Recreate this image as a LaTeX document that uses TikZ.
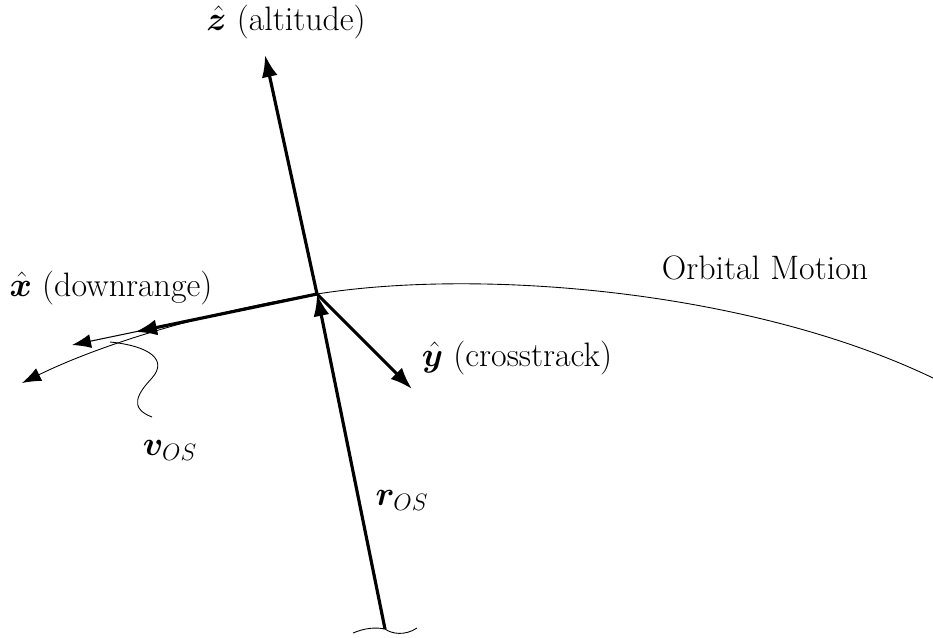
\RequirePackage{fix-cm}
\documentclass[tikz,border=0pt]{standalone}
\usepackage{amsmath,bm}
\usepackage{fontspec}
\usetikzlibrary{arrows.meta}
\tikzset{
  axis/.style={line width=1.8pt,-{Latex[length=4.4mm,width=3.2mm]}},
  thinvec/.style={line width=0.6pt,-{Latex[length=3.8mm,width=2.8mm]}},
  thinline/.style={line width=0.5pt},
  lbl/.style={font=\fontsize{19.3}{23}\selectfont}
}
\begin{document}
\begin{tikzpicture}[x=0.02cm,y=-0.02cm]
\useasboundingbox (0,0) rectangle (933,637);
% frame origin and tips
\coordinate (O) at (317,294);
\coordinate (zTip) at (265,55);
\coordinate (xTip) at (135,332);
\coordinate (vTip) at (72,345);
\coordinate (yTip) at (412,389);
\coordinate (Earth) at (385,629);
\coordinate (vTail) at (110,342);
\coordinate (vEnd) at (152,417);
\coordinate (orbitEnd) at (933,378);
\coordinate (orbitTip) at (22,383);
% orbit
\draw[thinvec,line width=0.5pt] (orbitEnd) .. controls (750,290) and (480,268) .. (O)
  .. controls (219,310) and (110,340) .. (orbitTip);
% vectors
\draw[axis] (O) -- (zTip);
\draw[axis] (O) -- (xTip);
\draw[axis] (O) -- (yTip);
\draw[axis] (Earth) -- (O);
\draw[thinvec] (O) -- (vTip);
% earth surface
\draw[thinline] (353,633) .. controls (365,628) and (375,627) .. (Earth) .. controls (392,634) and (405,636) .. (417,628);
% pointer to v
\draw[thinline] (vTail) .. controls (150,346) and (168,360) .. (152,378) .. controls (138,393) and (128,408) .. (vEnd);
% labels
\node[lbl] (zLabel) at (286,22) {$\bm{\hat{z}}$ (altitude)};
\node[lbl] (xLabel) at (111,288) {$\bm{\hat{x}}$ (downrange)};
\node[lbl] (yLabel) at (517,358) {$\bm{\hat{y}}$ (crosstrack)};
\node[lbl] (orbitLabel) at (765,268) {Orbital Motion};
\node[lbl] (vLabel) at (170,450) {$\bm{v}_{OS}$};
\node[lbl] (rLabel) at (402,500) {$\bm{r}_{OS}$};
\end{tikzpicture}
\end{document}
